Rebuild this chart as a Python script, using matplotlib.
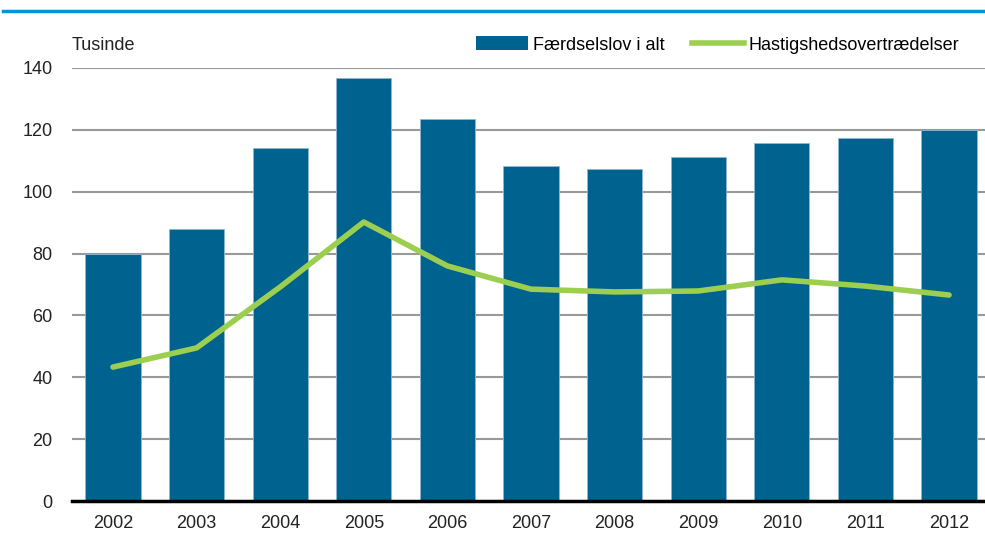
import matplotlib
matplotlib.use("Agg")
import matplotlib.pyplot as plt
from matplotlib.patches import Patch
from matplotlib.lines import Line2D

plt.rcParams['font.family'] = ['Liberation Sans Narrow', 'Liberation Sans', 'DejaVu Sans']

# Data (tusinde)
years = ['2002', '2003', '2004', '2005', '2006', '2007', '2008', '2009', '2010', '2011', '2012']
faerdselslov = [80, 88, 114, 136.8, 123.5, 108.3, 107.3, 111.2, 115.7, 117.4, 119.9]
hastighed = [43.3, 49.5, 69.2, 90.2, 76.0, 68.5, 67.6, 67.9, 71.5, 69.5, 66.6]

blue = '#00628f'
green = '#9ccf4f'

fig = plt.figure(figsize=(9.85, 5.43), dpi=100)
ax = fig.add_axes([0.0731, 0.0773, 0.9269, 0.7975])

x = range(len(years))
ax.bar(x, faerdselslov, width=0.66, color=blue, edgecolor='#8fb8cf', linewidth=0.6, zorder=2)
ax.plot(x, hastighed, color=green, linewidth=4, solid_capstyle='round', zorder=3)

ax.set_ylim(0, 140)
ax.set_xlim(-0.49, 10.43)
ax.set_yticks(range(0, 141, 20))
ax.set_xticks(list(x))
ax.set_xticklabels(years)
ax.tick_params(axis='both', length=0, labelsize=13, colors='#222222')
ax.tick_params(axis='x', pad=10)
ax.tick_params(axis='y', pad=14)
ax.yaxis.grid(True, color='#999999', linewidth=1.5, zorder=0)
ax.set_axisbelow(True)
for s in ['top', 'right', 'left']:
    ax.spines[s].set_visible(False)
ax.spines['bottom'].set_linewidth(2.5)
ax.spines['bottom'].set_color('black')
ax.spines['bottom'].set_zorder(4)

fig.text(0.0731, 0.917, 'Tusinde', fontsize=13, color='#222222', va='center', ha='left')

handles = [Patch(facecolor=blue, edgecolor='none'),
           Line2D([0], [0], color=green, linewidth=4)]
leg = fig.legend(handles, ['Færdselslov i alt', 'Hastigshedsovertrædelser'],
                 loc='center left', bbox_to_anchor=(0.474, 0.917), ncol=2, frameon=False,
                 fontsize=13, handlelength=2.9, handleheight=0.8, handletextpad=0.25,
                 columnspacing=1.5, borderpad=0)

fig.add_artist(Line2D([0.003, 1.0], [0.98, 0.98], color='#0095d5', linewidth=2.5,
                      transform=fig.transFigure))

fig.savefig('out.png', dpi=100)
